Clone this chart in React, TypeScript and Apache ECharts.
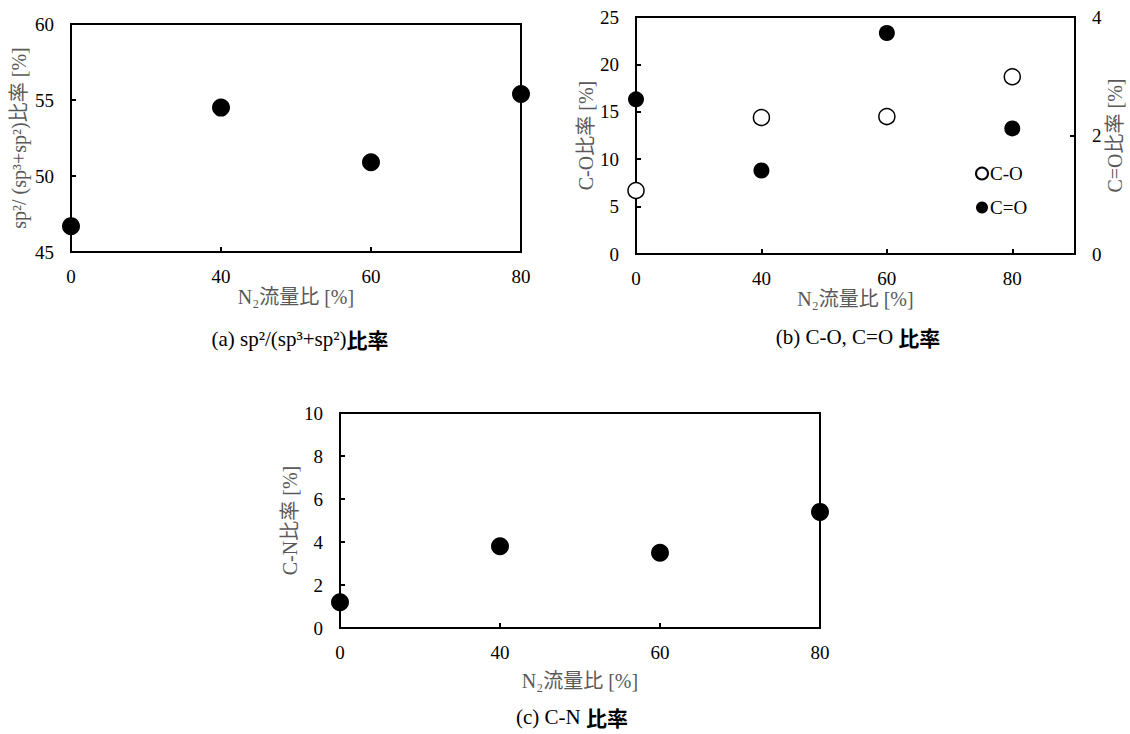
import React, { useEffect, useRef } from "react";
import * as echarts from "echarts";

const n2Labels = ["0", "40", "60", "80"];
const n2Index = [0, 1, 2, 3];
const sp2Ratio = [46.7, 54.5, 50.9, 55.4];
const coRatio = [6.7, 14.4, 14.5, 18.7];
const cdoRatio = [2.61, 1.41, 3.73, 2.12];
const cnRatio = [1.2, 3.8, 3.5, 5.4];

const xName = "N₂流量比 [%]";
const serif = "'Liberation Serif', 'Times New Roman', 'Noto Sans CJK JP', serif";
const nameFont = "'Liberation Serif', 'Noto Sans CJK JP', serif";

const pairs = (vals: number[]) => n2Index.map((i, k) => [i, vals[k]]);

const tickStyle = { show: true, inside: true, length: 5, lineStyle: { color: "#000", width: 2 } };
const lineStyle = { show: true, lineStyle: { color: "#000", width: 2 } };
const labelStyle = { color: "#000", fontFamily: serif, fontSize: 19 };
const nameStyle = { color: "#595959", fontFamily: nameFont, fontSize: 20 };

function xAxis(gridIndex: number, max: number, nameGap: number) {
  return {
    type: "value",
    gridIndex,
    min: 0,
    max,
    interval: 1,
    axisLine: lineStyle,
    axisTick: tickStyle,
    splitLine: { show: false },
    axisLabel: {
      ...labelStyle,
      margin: 15,
      formatter: (v: number) => (Number.isInteger(v) && n2Labels[v] !== undefined ? n2Labels[v] : ""),
    },
    name: xName,
    nameLocation: "middle",
    nameGap,
    nameTextStyle: nameStyle,
  };
}

function yAxis(gridIndex: number, min: number, max: number, interval: number, name: string, nameGap: number, position = "left") {
  return {
    type: "value",
    gridIndex,
    position,
    min,
    max,
    interval,
    axisLine: lineStyle,
    axisTick: tickStyle,
    splitLine: { show: false },
    axisLabel: { ...labelStyle, margin: 17 },
    name,
    nameLocation: "middle",
    nameGap,
    nameRotate: 90,
    nameTextStyle: nameStyle,
  };
}

const capRich = { cj: { fontFamily: "'Noto Sans CJK JP'", fontSize: 21, fontWeight: "bold", fill: "#000" } };

export default function App() {
  const ref = useRef<HTMLDivElement>(null);
  useEffect(() => {
    document.body.style.margin = "0";
    const chart = echarts.init(ref.current!, null, { renderer: "svg" });
    const gridBase = { show: true, borderColor: "#000", borderWidth: 2, backgroundColor: "transparent" };
    chart.setOption({
      animation: false,
      backgroundColor: "#fff",
      grid: [
        { ...gridBase, left: 71, top: 24, width: 450, height: 228 },
        { ...gridBase, left: 636, top: 17, width: 439, height: 237 },
        { ...gridBase, left: 340, top: 413, width: 480, height: 215 },
      ],
      xAxis: [xAxis(0, 3, 30), xAxis(1, 3.5, 33), xAxis(2, 3, 43)],
      yAxis: [
        yAxis(0, 45, 60, 5, "sp²/ (sp³+sp²)比率 [%]", 42),
        yAxis(1, 0, 25, 5, "C-O比率 [%]", 38),
        yAxis(1, 0, 4, 2, "C=O比率 [%]", 28, "right"),
        yAxis(2, 0, 10, 2, "C-N比率 [%]", 36),
      ],
      legend: {
        data: ["C-O", "C=O"],
        orient: "vertical",
        left: 970,
        top: 159,
        itemWidth: 12,
        itemHeight: 12,
        itemGap: 15,
        textStyle: { color: "#000", fontFamily: serif, fontSize: 19, padding: [0, 0, 0, -3] },
      },
      series: [
        {
          name: "sp2",
          type: "scatter",
          xAxisIndex: 0,
          yAxisIndex: 0,
          symbol: "circle",
          symbolSize: 18,
          itemStyle: { color: "#000", opacity: 1 },
          data: pairs(sp2Ratio),
        },
        {
          name: "C-O",
          type: "scatter",
          xAxisIndex: 1,
          yAxisIndex: 1,
          symbol: "circle",
          symbolSize: 16,
          itemStyle: { color: "#fff", borderColor: "#000", borderWidth: 1.5, opacity: 1 },
          data: pairs(coRatio),
        },
        {
          name: "C=O",
          type: "scatter",
          xAxisIndex: 1,
          yAxisIndex: 2,
          symbol: "circle",
          symbolSize: 16,
          itemStyle: { color: "#000", opacity: 1 },
          data: pairs(cdoRatio),
        },
        {
          name: "C-N",
          type: "scatter",
          xAxisIndex: 2,
          yAxisIndex: 3,
          symbol: "circle",
          symbolSize: 18,
          itemStyle: { color: "#000", opacity: 1 },
          data: pairs(cnRatio),
        },
      ],
      graphic: [
        {
          type: "text",
          x: 300,
          y: 339,
          style: {
            text: "(a) sp²/(sp³+sp²){cj|比率}",
            align: "center",
            verticalAlign: "middle",
            fill: "#000",
            fontFamily: serif,
            fontSize: 21,
            rich: capRich,
          },
        },
        {
          type: "text",
          x: 858,
          y: 337,
          style: {
            text: "(b) C-O, C=O {cj|比率}",
            align: "center",
            verticalAlign: "middle",
            fill: "#000",
            fontFamily: serif,
            fontSize: 21,
            rich: capRich,
          },
        },
        {
          type: "text",
          x: 572,
          y: 717,
          style: {
            text: "(c) C-N {cj|比率}",
            align: "center",
            verticalAlign: "middle",
            fill: "#000",
            fontFamily: serif,
            fontSize: 21,
            rich: capRich,
          },
        },
      ],
    });
    return () => chart.dispose();
  }, []);
  return <div ref={ref} style={{ width: 1130, height: 734 }} />;
}
